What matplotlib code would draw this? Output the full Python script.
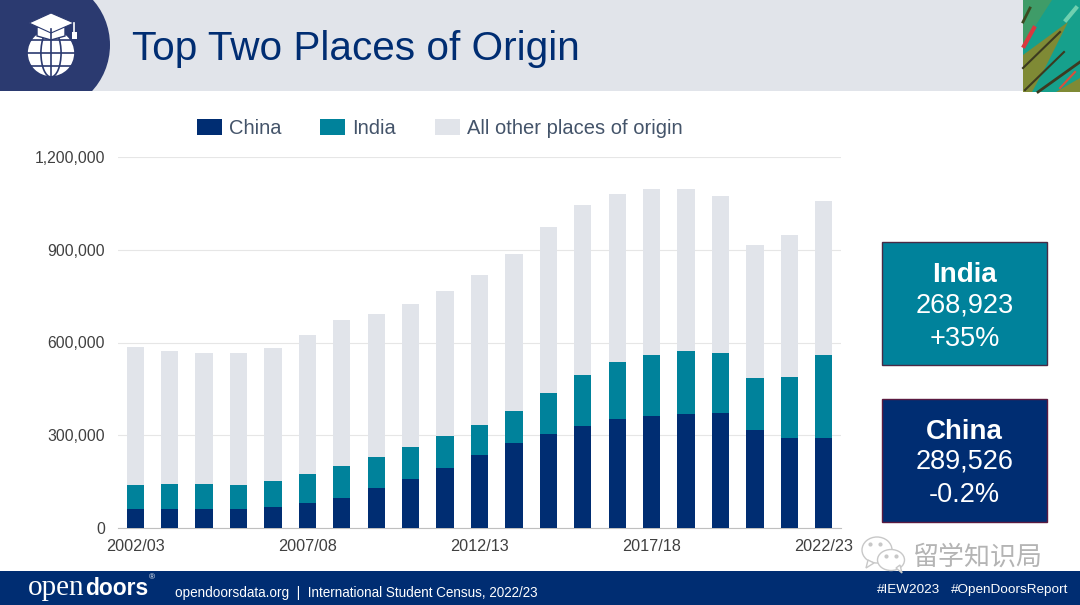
import matplotlib
matplotlib.use("Agg")
import matplotlib.pyplot as plt
from matplotlib.patches import Rectangle, Ellipse, Circle, Polygon

plt.rcParams['font.family'] = ['Liberation Sans', 'DejaVu Sans']

years = ['2002/03', '2003/04', '2004/05', '2005/06', '2006/07', '2007/08', '2008/09',
         '2009/10', '2010/11', '2011/12', '2012/13', '2013/14', '2014/15', '2015/16',
         '2016/17', '2017/18', '2018/19', '2019/20', '2020/21', '2021/22', '2022/23']
china = [63000, 61000, 62000, 63000, 68000, 81000, 98000, 128000, 158000, 194000, 235000,
         274000, 304000, 329000, 351000, 363000, 370000, 372000, 317000, 290000, 289526]
india = [75000, 80000, 80000, 77000, 84000, 94000, 104000, 103000, 105000, 104000, 97000,
         103000, 133000, 166000, 186000, 196000, 203000, 194000, 168000, 199000, 268923]
other = [448000, 431000, 423000, 425000, 431000, 449000, 470000, 460000, 460000, 467000, 487000,
         509000, 538000, 549000, 542000, 536000, 522000, 509000, 429000, 459000, 499000]
y_ticks = [0, 300000, 600000, 900000, 1200000]
x_labels = ['2002/03', '2007/08', '2012/13', '2017/18', '2022/23']

NAVY = '#002d72'
TEAL = '#00829b'
GREY = '#e1e4ea'
LOGO = '#2b3a70'

fig = plt.figure(figsize=(10.8, 6.05), dpi=100)

# overlay in pixel coordinates for the slide furniture
bg = fig.add_axes([0, 0, 1, 1], zorder=0)
bg.set_xlim(0, 1080)
bg.set_ylim(605, 0)
bg.axis('off')

# header band
header = Rectangle((0, 0), 1080, 91, color=GREY, lw=0)
bg.add_patch(header)
logo_bg = Circle((42, 45), 68, color=LOGO, lw=0)
bg.add_patch(logo_bg)
logo_bg.set_clip_path(header)
bg.add_patch(Rectangle((0, 0), 42, 91, color=LOGO, lw=0))
bg.text(132, 60, 'Top Two Places of Origin', color=NAVY, fontsize=29.2, va='baseline', ha='left')

# logo, globe and cap
bg.add_patch(Circle((51, 53), 24, color='white', lw=0))
for r in (0.42, 1.0):
    bg.add_patch(Ellipse((51, 53), 48 * r, 48, fill=False, ec=LOGO, lw=1.2))
bg.plot([27, 75], [53, 53], color=LOGO, lw=1.2)
bg.plot([31, 71], [40, 40], color=LOGO, lw=1.2)
bg.plot([31, 71], [66, 66], color=LOGO, lw=1.2)
bg.plot([51, 51], [29, 77], color=LOGO, lw=1.2)
bg.add_patch(Polygon([[37, 27], [37, 36], [51, 40], [65, 36], [65, 27]], fc='white', ec=LOGO, lw=1))
bg.add_patch(Polygon([[29, 23], [51, 13], [74, 23], [51, 33]], fc='white', ec=LOGO, lw=0.8))
bg.plot([74, 74], [23, 34], color='white', lw=1.2)
bg.add_patch(Rectangle((72, 32), 5, 7, color='white', lw=0))

# corner artwork
bg.add_patch(Rectangle((1023, 0), 57, 92, color='#16a08c', lw=0))
bg.add_patch(Polygon([[1023, 0], [1052, 0], [1023, 45]], color='#3f9c68', lw=0))
bg.add_patch(Polygon([[1023, 92], [1023, 55], [1068, 22], [1046, 66], [1032, 92]], color='#7f8a35', lw=0))
bg.add_patch(Polygon([[1056, 92], [1080, 78], [1080, 92]], color='#7f8a35', lw=0))
bg.plot([1023, 1060], [68, 32], color='#3c3a20', lw=1.5)
bg.plot([1025, 1064], [90, 52], color='#3c3a20', lw=1.5)
bg.plot([1038, 1080], [92, 62], color='#3c3a20', lw=2)
bg.plot([1024, 1034], [46, 28], color='#d9383f', lw=3)
bg.plot([1060, 1075], [88, 72], color='#d9503a', lw=1.5)
bg.plot([1023, 1030], [22, 8], color='#3c4a20', lw=2)
bg.plot([1066, 1076], [20, 8], color='#6fd0b0', lw=3)
bg.set_xlim(0, 1080)
bg.set_ylim(605, 0)

# footer band
bg.add_patch(Rectangle((0, 571), 1080, 34, color=NAVY, lw=0))
bg.text(28, 595, 'open', color='white', fontsize=21, family='Liberation Serif', va='baseline')
bg.text(85, 595, 'doors', color='white', fontsize=16.5, fontweight='bold', va='baseline')
bg.text(149, 579, '®', color='white', fontsize=6, va='baseline')
bg.text(175, 593, 'opendoorsdata.org  |  International Student Census, 2022/23',
        color='white', fontsize=9.75, va='center')
bg.text(877, 590, '#IEW2023', color='white', fontsize=9.7, va='center')
bg.text(951, 590, '#OpenDoorsReport', color='white', fontsize=9.7, va='center')

# callout boxes
bg.add_patch(Rectangle((882, 241.5), 164.5, 123, fc=TEAL, ec='#4a2a45', lw=1))
bg.text(964.5, 275, 'India', color='white', fontsize=20, fontweight='bold', ha='center', va='center')
bg.text(964.5, 306, '268,923', color='white', fontsize=19.5, ha='center', va='center')
bg.text(964.5, 339, '+35%', color='white', fontsize=19.5, ha='center', va='center')
bg.add_patch(Rectangle((882, 398.5), 164.5, 123, fc=NAVY, ec='#5a1a40', lw=1))
bg.text(964.5, 432, 'China', color='white', fontsize=20, fontweight='bold', ha='center', va='center')
bg.text(964.5, 461, '289,526', color='white', fontsize=19.5, ha='center', va='center')
bg.text(964.5, 495, '-0.2%', color='white', fontsize=19.5, ha='center', va='center')

# chart
ax = fig.add_axes([118 / 1080, 1 - 528 / 605, 723 / 1080, 371 / 605], zorder=1)
ax.patch.set_alpha(0)
pos = list(range(len(years)))
bottom_other = [c + i for c, i in zip(china, india)]
ax.bar(pos, china, width=0.5, color=NAVY, label='China', zorder=3)
ax.bar(pos, india, width=0.5, bottom=china, color=TEAL, label='India', zorder=3)
ax.bar(pos, other, width=0.5, bottom=bottom_other, color=GREY, label='All other places of origin', zorder=3)
ax.set_xlim(-0.5, 20.5)
ax.set_ylim(0, 1200000)
ax.set_yticks(y_ticks)
ax.set_yticklabels([f'{v:,}' for v in y_ticks])
ax.set_xticks([years.index(x) for x in x_labels])
ax.set_xticklabels(x_labels)
ax.grid(axis='y', color='#e6e6e6', lw=0.8, zorder=0)
ax.tick_params(length=0, labelsize=11.7, labelcolor='#404040')
ax.tick_params(axis='x', pad=8)
ax.tick_params(axis='y', pad=9.4, labelsize=11.35)
for side in ('top', 'right', 'left'):
    ax.spines[side].set_visible(False)
ax.spines['bottom'].set_color('#bfbfbf')
ax.spines['bottom'].set_linewidth(0.8)
ax.legend(loc='lower left', bbox_to_anchor=(194.5 / 1080, 1 - 140 / 605), bbox_transform=fig.transFigure,
          ncol=3, frameon=False, fontsize=14.5, labelcolor='#44546a', handlelength=1.27, handleheight=0.85,
          columnspacing=1.9, handletextpad=0.35, borderaxespad=0, borderpad=0.1)

# watermark
wm = fig.add_axes([0, 0, 1, 1], zorder=2)
wm.set_xlim(0, 1080)
wm.set_ylim(605, 0)
wm.axis('off')
wm.patch.set_alpha(0)
wm.add_patch(Ellipse((877, 550), 30, 26, fc='white', ec='#c8c8c8', lw=1))
wm.add_patch(Polygon([[868, 560], [866, 568], [874, 563]], fc='white', ec='#c8c8c8', lw=1))
wm.add_patch(Ellipse((891, 560), 27, 21, fc='white', ec='#c8c8c8', lw=1))
wm.add_patch(Polygon([[896, 568], [902, 573], [900, 565]], fc='white', ec='#c8c8c8', lw=1))
wm.plot([870, 880, 886, 896], [544, 544, 556, 556], ls='', marker='o', ms=2, color='#c8c8c8')
wm.text(913, 557, '留学知识局', color='#b4b4b4', fontsize=18.7, va='center',
        family=['Noto Sans CJK SC', 'DejaVu Sans'])

fig.savefig('out.png', dpi=100)
